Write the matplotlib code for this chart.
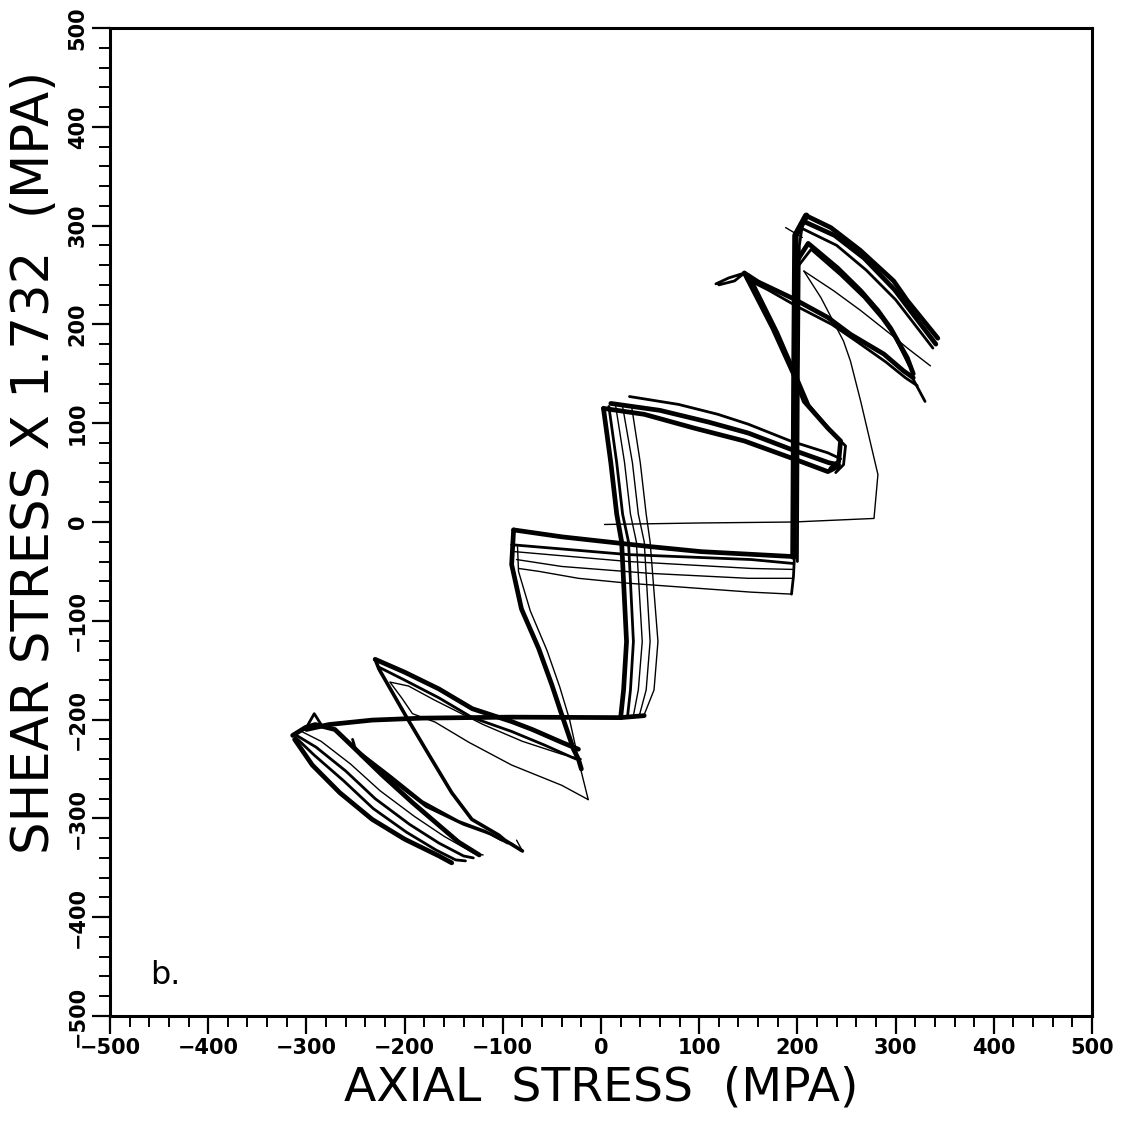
import matplotlib
matplotlib.use("Agg")
import matplotlib.pyplot as plt
from matplotlib.ticker import MultipleLocator

# ---------------- data (MPa) ----------------
# initial loading path (thin)
init1_x = [3.6, 100, 196, 278, 282, 264.5, 254, 247, 224, 206.6]
init1_y = [-2.5, -1, 0, 3.6, 48, 122, 163, 183, 227, 254]
init2_x = [206.6, 237, 264.5, 295, 312, 335.5]
init2_y = [254, 234, 214, 190, 176, 158]

# right vertical leg
a1_x = [196, 197, 198, 209]
a1_y = [-35, 150, 290, 310]
a2_x = [200, 201, 202, 205]
a2_y = [-40, 150, 280, 300]
a3_x = [197, 196, 194]
a3_y = [-35, -55, -73]
a4_x = [188, 205]
a4_y = [298, 288]

# top-right band
b1_x = [209, 234, 264, 298, 312, 343]
b1_y = [310, 298, 275, 244, 224, 186]
b2_x = [207, 238, 268, 299, 315, 341]
b2_y = [304, 290, 267, 235, 214, 180]
b3_x = [205, 240, 270, 300, 338]
b3_y = [297, 280, 255, 225, 176]

# inner top-right band
m1_x = [200, 211, 241, 264.5, 282, 295, 312, 318]
m1_y = [265, 282, 257, 234, 214, 196, 166, 150]
m2_x = [200, 214, 244, 268, 286, 299, 314]
m2_y = [258, 276, 250, 227, 206, 188, 158]

# second peak band
c1_x = [146, 160, 196, 231, 254, 288, 308, 318]
c1_y = [252, 243, 226, 207, 190, 170, 153, 146]
c2_x = [148, 170, 200, 235, 260, 290, 310, 322]
c2_y = [246, 235, 218, 200, 183, 162, 146, 138]
ct_x = [316, 330]
ct_y = [148, 122]
cs_x = [117, 130, 146, 136, 120]
cs_y = [241, 247, 252, 244, 240]

d1_x = [146, 160, 175, 196, 207, 231, 244, 242, 234]
d1_y = [252, 225, 196, 150, 122, 95, 82, 61, 54]
d2_x = [151, 165, 180, 200, 212, 236, 249, 247, 239]
d2_y = [250, 222, 192, 146, 118, 90, 77, 58, 50]

e1_x = [29, 79, 119, 150, 193, 231, 244]
e1_y = [127, 119, 109, 99, 82, 70, 64]
e2_x = [2.5, 44, 95, 146, 196, 231, 241]
e2_y = [115, 109, 95, 82, 64, 51, 56]
e3_x = [10, 60, 110, 150, 195, 232, 242]
e3_y = [120, 113, 101, 90, 73, 60, 58]

# middle right leg
v1_x = [2.5, 10, 16, 21, 26, 23, 20]
v1_y = [115, 60, 8, -20, -121, -170, -198]
v2_x = [8, 16, 22, 28, 33, 30, 27]
v2_y = [117, 60, 8, -20, -121, -170, -197]
v3_x = [15, 24, 30, 36, 42, 38, 33]
v3_y = [117, 60, 8, -20, -121, -170, -196]
v4_x = [22, 32, 38, 44, 50, 46, 39]
v4_y = [117, 60, 8, -20, -121, -170, -196]
v5_x = [31, 40, 46, 50, 58, 54, 44]
v5_y = [118, 60, 8, -20, -121, -170, -195]

# horizontal lower line
h_x = [44, 20, -91, -182, -233, -277, -300]
h_y = [-196, -198, -197.5, -198.5, -200.5, -205, -210]
hs_x = [-300, -292, -285]
hs_y = [-208, -194, -205]

# middle horizontal band
k1_x = [-89, -40, 51, 102, 196]
k1_y = [-8, -15, -25, -30, -35]
k2_x = [-91, 28, 153, 196]
k2_y = [-23, -33, -38, -42]
k3_x = [-88, 28, 153, 196]
k3_y = [-30, -40, -47, -48]
k4_x = [-86, -40, 50, 150, 195]
k4_y = [-38, -45, -52, -57, -57]
k5_x = [-84, -63, -23, 28, 153, 194]
k5_y = [-47, -50, -57, -62, -71, -73]

# left leg of middle zigzag
j1_x = [-89, -91, -81, -63.5, -50, -40, -28, -23, -20]
j1_y = [-8, -43, -88, -128, -165, -195, -230, -240, -250]
j2_x = [-85, -84, -72, -55, -42, -32, -22, -13]
j2_y = [-25, -50, -90, -130, -167, -200, -245, -281]

# lower-left upper band
f1_x = [-230, -200, -165, -131, -91, -70, -40, -23]
f1_y = [-139, -152, -169, -189, -202, -210, -223, -230]
f2_x = [-226, -200, -165, -131, -91, -57, -30, -25]
f2_y = [-147, -160, -178, -198, -212, -226, -238, -240]
fl_x = [-20, -40, -80, -120, -170, -196, -215, -203, -192, -169, -134.5, -91, -40, -13]
fl_y = [-240, -235, -222, -205, -180, -166, -162, -178, -194, -202.5, -223, -246, -266.5, -281]

# lower-left diagonal
dg_x = [-230, -226, -199.5, -175, -152, -131.5, -104, -98, -80]
dg_y = [-139, -149, -195, -236, -274, -301, -317, -322, -333]
dt_x = [-91, -80, -86]
dt_y = [-325, -333, -322]

# second lower-left band
i1_x = [-253, -250, -216, -182, -145, -118, -101]
i1_y = [-220, -230, -256, -283, -303, -313, -322]
i2_x = [-245, -212, -178, -140, -112, -95]
i2_y = [-236, -262, -288, -306, -316, -325]

# lowest band
g1_x = [-314, -301, -291, -271, -250, -223, -192, -165, -145, -124]
g1_y = [-216, -208, -205, -210, -230, -256, -284, -307, -324, -337]
g2_x = [-310, -290, -260, -230, -195, -165, -140, -130]
g2_y = [-216, -228, -252, -280, -306, -325, -338, -340]
g3_x = [-311, -292, -262, -232, -198, -168, -148, -138]
g3_y = [-218, -236, -262, -290, -314, -332, -342, -343]
g4_x = [-305, -285, -255, -225, -190, -160, -130, -120]
g4_y = [-212, -222, -245, -272, -298, -318, -335, -337]
g5_x = [-312, -294, -266, -233, -200, -165, -152]
g5_y = [-220, -246, -274, -301, -321, -338, -345]

ticks = [-500, -400, -300, -200, -100, 0, 100, 200, 300, 400, 500]
tick_labels = ["\u2212500", "\u2212400", "\u2212300", "\u2212200", "\u2212100",
               "0", "100", "200", "300", "400", "500"]

# ---------------- drawing ----------------
W, H = 1124, 1126
fig = plt.figure(figsize=(W / 100, H / 100), dpi=100)
fig.patch.set_facecolor("white")
ax = fig.add_axes([110 / W, 1 - 1016 / H, (1092 - 110) / W, (1016 - 28) / H])

thin = 1.0
mid = 2.0
thick = 3.4

strokes = [
    (init1_x, init1_y, thin), (init2_x, init2_y, thin),
    (a1_x, a1_y, 4.6), (a2_x, a2_y, mid), (a3_x, a3_y, mid), (a4_x, a4_y, thin),
    (b1_x, b1_y, thick), (b2_x, b2_y, thick), (b3_x, b3_y, mid),
    (m1_x, m1_y, thick), (m2_x, m2_y, mid),
    (c1_x, c1_y, thick), (c2_x, c2_y, mid), (ct_x, ct_y, mid), (cs_x, cs_y, mid),
    (d1_x, d1_y, thick), (d2_x, d2_y, mid),
    (e1_x, e1_y, mid), (e2_x, e2_y, thick), (e3_x, e3_y, thick),
    (v1_x, v1_y, thick), (v2_x, v2_y, mid), (v3_x, v3_y, thin),
    (v4_x, v4_y, thin), (v5_x, v5_y, thin),
    (h_x, h_y, thick), (hs_x, hs_y, mid),
    (k1_x, k1_y, thick), (k2_x, k2_y, mid), (k3_x, k3_y, thin),
    (k4_x, k4_y, thin), (k5_x, k5_y, thin),
    (j1_x, j1_y, thick), (j2_x, j2_y, thin),
    (f1_x, f1_y, thick), (f2_x, f2_y, mid), (fl_x, fl_y, thin),
    (dg_x, dg_y, 2.6), (dt_x, dt_y, thin),
    (i1_x, i1_y, mid), (i2_x, i2_y, mid),
    (g1_x, g1_y, thick), (g2_x, g2_y, mid), (g3_x, g3_y, mid),
    (g4_x, g4_y, thin), (g5_x, g5_y, thick),
]
for sx, sy, lw in strokes:
    ax.plot(sx, sy, color="black", lw=lw, solid_joinstyle="round",
            solid_capstyle="round")

ax.set_xlim(-500, 500)
ax.set_ylim(-500, 500)
ax.set_xticks(ticks)
ax.set_yticks(ticks)
ax.set_xticklabels(tick_labels)
ax.set_yticklabels(tick_labels)
ax.xaxis.set_minor_locator(MultipleLocator(20))
ax.yaxis.set_minor_locator(MultipleLocator(20))
ax.tick_params(which="major", direction="out", length=13, width=1.6,
               labelsize=15, pad=3, colors="black")
ax.tick_params(which="minor", direction="out", length=8, width=1.4)
for lbl in ax.get_xticklabels():
    lbl.set_fontweight("bold")
for lbl in ax.get_yticklabels():
    lbl.set_fontweight("bold")
    lbl.set_rotation(90)
    lbl.set_va("center")
for s in ax.spines.values():
    s.set_linewidth(2.2)

ax.text(-459, -468, "b.", fontsize=23, ha="left", va="baseline")

fig.text(601 / W, 1 - 1088 / H, "AXIAL  STRESS  (MPA)", ha="center",
         va="center", fontsize=34)
fig.text(35 / W, 1 - 462 / H, "SHEAR STRESS X 1.732  (MPA)", ha="center",
         va="center", rotation=90, fontsize=37)

fig.savefig("out.png", dpi=100, facecolor="white")
